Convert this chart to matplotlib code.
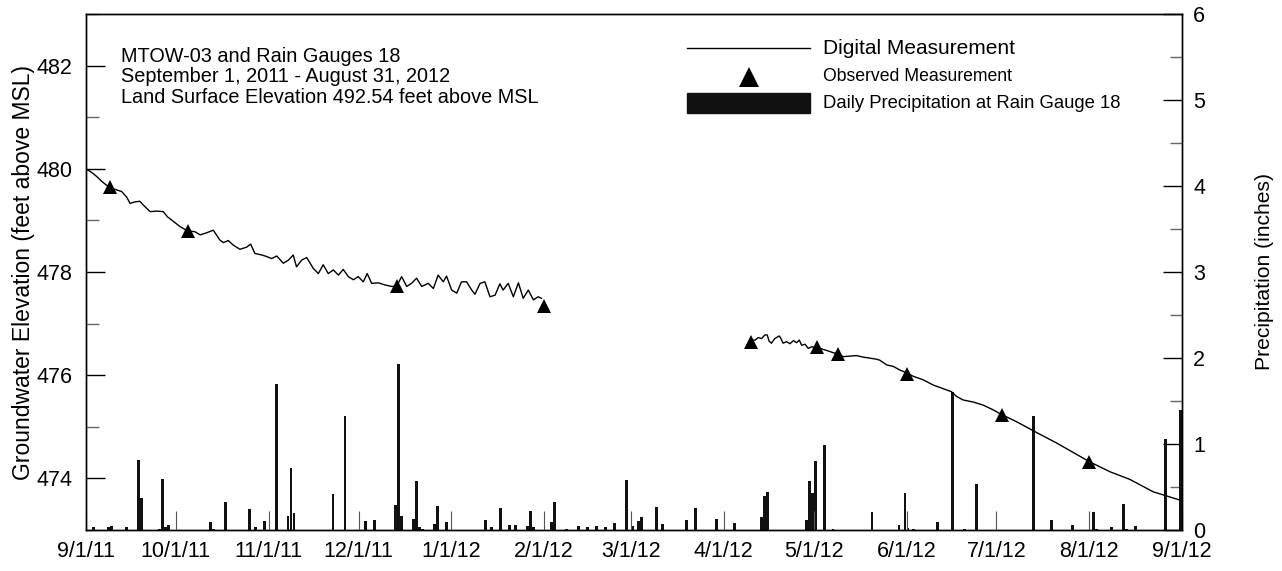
import matplotlib
matplotlib.use('Agg')
import matplotlib.pyplot as plt
from matplotlib.lines import Line2D
from matplotlib.patches import Rectangle
from matplotlib.ticker import MultipleLocator
import numpy as np
import pandas as pd

plt.rcParams['font.family'] = ['Liberation Sans', 'DejaVu Sans']

START = pd.Timestamp('2011-09-01')

# digital measurement, days after 9/1/11 -> feet above MSL
gw1_days = [0, 1.9, 3.6, 5.2, 6.9, 8, 9.7, 11.9, 13.6, 14.7, 16.4, 18, 19.1, 21.4, 23.6,
            25.8, 27.2, 29.2, 31.4, 33.8, 36.4, 38.1, 40.3, 42.5, 44.7, 45.9, 47.5, 49.2,
            51.4, 53.6, 55, 56.4, 58.7, 60.3, 62, 63.7, 65.9, 67.6, 69.2, 70.3, 72, 73.7,
            75.9, 77.6, 79.2, 80.9, 82.6, 84.3, 85.9, 87.6, 89.3, 90.9, 92.6, 93.9, 95.4,
            97.6, 99.8, 102.1, 103.7, 105.4, 107.1, 108.7, 110.4, 112.1, 114.3, 116, 117.6,
            119.3, 120.4, 122.1, 123.8, 125.4, 127.1, 128.8, 129.9, 131.6, 133.2, 134.9,
            136.6, 138.2, 139.3, 141, 142.7, 144.4, 146, 147.7, 149.4, 151, 152.1]
gw1_vals = [480.00, 479.93, 479.85, 479.76, 479.68, 479.64, 479.60, 479.56, 479.45, 479.33,
            479.36, 479.37, 479.30, 479.17, 479.18, 479.17, 479.07, 478.98, 478.88, 478.80,
            478.78, 478.72, 478.76, 478.81, 478.62, 478.57, 478.61, 478.52, 478.44, 478.48,
            478.54, 478.36, 478.33, 478.30, 478.26, 478.31, 478.17, 478.23, 478.33, 478.10,
            478.23, 478.28, 478.07, 477.97, 478.14, 477.97, 478.04, 477.94, 478.05, 477.91,
            477.85, 477.91, 477.81, 477.97, 477.78, 477.79, 477.75, 477.72, 477.72, 477.91,
            477.72, 477.78, 477.88, 477.72, 477.78, 477.68, 477.94, 477.81, 477.92, 477.65,
            477.59, 477.81, 477.81, 477.65, 477.57, 477.78, 477.81, 477.52, 477.55, 477.77,
            477.65, 477.78, 477.52, 477.79, 477.49, 477.65, 477.46, 477.52, 477.49]

gw2_days = [221.5, 223.4, 224.5, 225.6, 226.7, 227.5, 228.1, 228.9, 230, 231.5, 231.9,
            232.8, 233.9, 235.1, 236.2, 237.3, 238.2, 239, 240.1, 241.2, 242.3, 243.4,
            245.1, 247.3, 250.4, 252.9, 255.1, 257.3, 259.6, 261.8, 264, 265.1, 267.4,
            269.6, 271.8, 274.3, 276.2, 279.6, 282.9, 286.2, 289, 290.7, 292.9, 296.3,
            299.6, 302.9, 306, 310.7, 317.4, 324, 335.2, 341.9, 348.6, 356.4, 365.3]
gw2_vals = [476.67, 476.68, 476.73, 476.71, 476.78, 476.78, 476.66, 476.62, 476.71, 476.76,
            476.73, 476.62, 476.65, 476.61, 476.67, 476.63, 476.68, 476.58, 476.60, 476.52,
            476.55, 476.54, 476.52, 476.48, 476.42, 476.36, 476.37, 476.38, 476.35, 476.33,
            476.31, 476.29, 476.20, 476.17, 476.10, 476.04, 475.98, 475.91, 475.81, 475.74,
            475.68, 475.59, 475.52, 475.48, 475.42, 475.33, 475.23, 475.10, 474.89, 474.69,
            474.32, 474.13, 473.98, 473.74, 473.58]

# observed (manual) measurements
obs_dates = ['2011-09-09', '2011-10-05', '2011-12-14', '2012-02-01', '2012-04-10',
             '2012-05-02', '2012-05-09', '2012-06-01', '2012-07-03', '2012-08-01']
obs_vals = [479.64, 478.80, 477.72, 477.35, 476.65, 476.54, 476.42, 476.03, 475.23, 474.32]

# daily precipitation at rain gauge 18 (inches)
rain_dates = ['2011-09-03', '2011-09-08', '2011-09-09', '2011-09-14', '2011-09-18',
              '2011-09-19', '2011-09-25', '2011-09-26', '2011-09-27', '2011-09-28',
              '2011-10-12', '2011-10-13', '2011-10-17', '2011-10-25', '2011-10-27',
              '2011-10-30', '2011-11-03', '2011-11-07', '2011-11-08', '2011-11-09',
              '2011-11-22', '2011-11-26', '2011-12-03', '2011-12-06', '2011-12-13',
              '2011-12-14', '2011-12-15', '2011-12-19', '2011-12-20', '2011-12-21',
              '2011-12-22', '2011-12-26', '2011-12-27', '2011-12-30', '2012-01-12',
              '2012-01-14', '2012-01-17', '2012-01-20', '2012-01-22', '2012-01-26',
              '2012-01-27', '2012-01-28', '2012-02-03', '2012-02-04', '2012-02-08',
              '2012-02-12', '2012-02-15', '2012-02-18', '2012-02-21', '2012-02-24',
              '2012-02-28', '2012-03-01', '2012-03-03', '2012-03-04', '2012-03-09',
              '2012-03-11', '2012-03-19', '2012-03-22', '2012-03-29', '2012-04-04',
              '2012-04-13', '2012-04-14', '2012-04-15', '2012-04-28', '2012-04-29',
              '2012-04-30', '2012-05-01', '2012-05-04', '2012-05-07', '2012-05-20',
              '2012-05-29', '2012-05-31', '2012-06-01', '2012-06-03', '2012-06-11',
              '2012-06-16', '2012-06-20', '2012-06-24', '2012-07-13', '2012-07-19',
              '2012-07-26', '2012-08-02', '2012-08-03', '2012-08-08', '2012-08-12',
              '2012-08-13', '2012-08-16', '2012-08-26', '2012-08-31']
rain_vals = [0.03, 0.03, 0.05, 0.04, 0.81, 0.37, 0.01, 0.59, 0.035, 0.06,
             0.09, 0.01, 0.32, 0.25, 0.04, 0.10, 1.70, 0.16, 0.72, 0.20,
             0.42, 1.32, 0.11, 0.12, 0.29, 1.93, 0.16, 0.13, 0.57, 0.04,
             0.01, 0.07, 0.28, 0.09, 0.12, 0.03, 0.26, 0.06, 0.06, 0.05,
             0.22, 0.03, 0.09, 0.33, 0.01, 0.05, 0.04, 0.05, 0.04, 0.08,
             0.58, 0.05, 0.10, 0.15, 0.27, 0.07, 0.12, 0.26, 0.13, 0.085,
             0.155, 0.39, 0.44, 0.12, 0.57, 0.43, 0.80, 0.99, 0.01, 0.21,
             0.06, 0.43, 0.02, 0.01, 0.09, 1.61, 0.01, 0.53, 1.32, 0.12,
             0.06, 0.21, 0.01, 0.03, 0.30, 0.01, 0.05, 1.06, 1.39]

month_ticks = pd.date_range('2011-09-01', '2012-09-01', freq='MS')


def main():
    fig = plt.figure(figsize=(12.82, 5.71), dpi=100)
    ax = fig.add_axes([86 / 1282, 41 / 571, 1096 / 1282, 516 / 571])
    ax2 = ax.twinx()

    # precipitation on the right axis
    ax2.bar(pd.to_datetime(rain_dates), rain_vals, width=0.95, align='edge',
            color='#111111', linewidth=0, zorder=2)
    ax2.set_ylim(0, 6)
    ax2.yaxis.set_major_locator(MultipleLocator(1))
    ax2.yaxis.set_minor_locator(MultipleLocator(0.5))
    ax2.set_ylabel('Precipitation (inches)', fontsize=15.2, labelpad=36)

    # groundwater on the left axis
    d1 = START + pd.to_timedelta(gw1_days, unit='D')
    d2 = START + pd.to_timedelta(gw2_days, unit='D')
    ax.plot(d1, gw1_vals, color='black', lw=1.0, zorder=3)
    ax.plot(d2, gw2_vals, color='black', lw=1.0, zorder=3)
    ax.plot(pd.to_datetime(obs_dates), obs_vals, '^', color='black', ms=9.5,
            markeredgewidth=0, zorder=4)
    ax.set_ylim(473, 483)
    ax.yaxis.set_major_locator(MultipleLocator(2))
    ax.yaxis.set_minor_locator(MultipleLocator(1))
    ax.set_ylabel('Groundwater Elevation (feet above MSL)', fontsize=16.5, labelpad=1)

    ax.set_xlim(month_ticks[0], month_ticks[-1])
    ax.set_xticks(month_ticks)
    ax.set_xticklabels([f'{d.month}/{d.day}/{d.year % 100}' for d in month_ticks])

    # keep the line axis on top of the bars
    ax.set_zorder(ax2.get_zorder() + 1)
    ax.patch.set_visible(False)

    ax.tick_params(axis='y', which='major', direction='in', length=14, width=1,
                   labelsize=15.5, pad=10)
    ax.tick_params(axis='y', which='minor', direction='in', length=9, width=1,
                   color='#666666')
    ax.tick_params(axis='x', which='major', direction='in', length=14, width=0.8,
                   color='#555555', labelsize=15.5, pad=8)
    ax2.tick_params(axis='y', which='major', direction='in', length=14, width=1,
                    labelsize=15.5, pad=8)
    ax2.tick_params(axis='y', which='minor', direction='in', length=9, width=1,
                    color='#666666')
    for a in (ax, ax2):
        for s in a.spines.values():
            s.set_linewidth(1.0)

    # site description
    ax.text(0.032, 0.917, 'MTOW-03 and Rain Gauges 18', transform=ax.transAxes,
            fontsize=14.3, va='center')
    ax.text(0.032, 0.878, 'September 1, 2011 - August 31, 2012', transform=ax.transAxes,
            fontsize=14.3, va='center')
    ax.text(0.032, 0.839, 'Land Surface Elevation 492.54 feet above MSL',
            transform=ax.transAxes, fontsize=14.3, va='center')

    # legend drawn by hand to get the mixed text sizes
    ax.add_line(Line2D([0.548, 0.661], [0.934, 0.934], color='black', lw=1.0,
                       transform=ax.transAxes))
    ax.add_line(Line2D([0.605], [0.878], marker='^', color='black', ms=14,
                       markeredgewidth=0, transform=ax.transAxes))
    ax.add_patch(Rectangle((0.548, 0.808), 0.113, 0.039, color='#111111',
                           transform=ax.transAxes))
    ax.text(0.6725, 0.934, 'Digital Measurement', transform=ax.transAxes,
            fontsize=15, va='center')
    ax.text(0.6725, 0.878, 'Observed Measurement', transform=ax.transAxes,
            fontsize=12.7, va='center')
    ax.text(0.6725, 0.8275, 'Daily Precipitation at Rain Gauge 18', transform=ax.transAxes,
            fontsize=13.3, va='center')

    fig.savefig('out.png', dpi=100)


if __name__ == '__main__':
    main()
